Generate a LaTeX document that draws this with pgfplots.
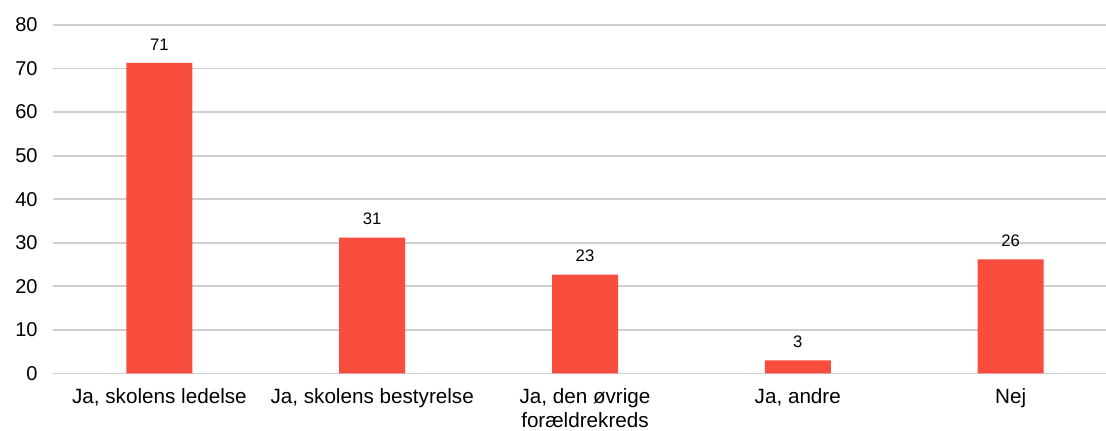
\documentclass[border=0pt]{standalone}
\usepackage{fontspec}
\setmainfont{Liberation Sans}
\usepackage{pgfplots}
\pgfplotsset{compat=1.18}
\definecolor{barred}{HTML}{F84C3C}
\definecolor{gridgray}{HTML}{CFCFCF}
\begin{document}
\begin{tikzpicture}
    \begin{axis}[
        name=ax,
        scale only axis,
        width=798pt,
        height=261.4pt,
        xmin=-0.5, xmax=4.5,
        ymin=0, ymax=80,
        ytick={0,10,...,80},
        xtick={0,1,2,3,4},
        xticklabels={{Ja, skolens ledelse},{Ja, skolens bestyrelse},{Ja, den øvrige\\forældrekreds},{Ja, andre},{Nej}},
        xticklabel style={align=center, font=\fontsize{15.5}{18}\selectfont, yshift=-8pt},
        yticklabel style={font=\fontsize{15}{17}\selectfont, xshift=-8pt},
        /pgf/number format/assume math mode=true,
        axis line style={draw=none},
        major tick length=0pt,
        ymajorgrids,
        grid style={gridgray, line width=1.4pt},
        clip=false
    ]
        \addplot[
            ybar,
            bar width=49.5pt,
            fill=barred,
            draw=none,
            nodes near coords,
            point meta=explicit symbolic,
            every node near coord/.append style={font=\fontsize{12.5}{14}\selectfont, yshift=6pt, black}
        ] coordinates {
            (0,71.3) [71]
            (1,31.2) [31]
            (2,22.7) [23]
            (3,3.0) [3]
            (4,26.2) [26]
        };
    \end{axis}
    \pgfresetboundingbox
    \path[use as bounding box] ([shift={(-39.75pt,-42.4pt)}]ax.south west) rectangle ([shift={(789.75pt,280.1pt)}]ax.south west);
\end{tikzpicture}
\end{document}
